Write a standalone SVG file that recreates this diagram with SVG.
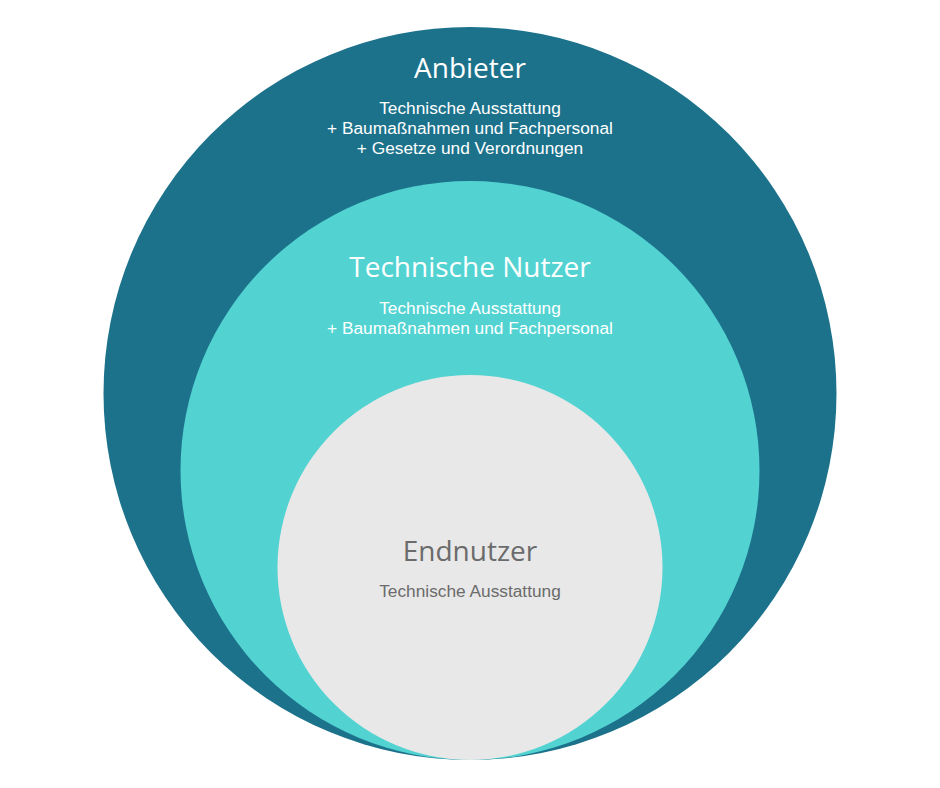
<svg xmlns="http://www.w3.org/2000/svg" width="940" height="788" viewBox="0 0 940 788">
<style>
.t{text-anchor:middle}
.h{font-family:"Open Sans","Noto Sans","DejaVu Sans",sans-serif;font-size:28px}
.s{font-family:"Liberation Sans",Arial,sans-serif;font-size:17.3px}
.w{fill:#ffffff}
.g{fill:#6b6b6b}
</style>
<rect width="940" height="788" fill="#ffffff"/>
<g id="anbieter">
<circle cx="470" cy="393.5" r="366.5" fill="#1c728b"/>
<text class="t h w" x="470" y="78">Anbieter</text>
<text class="t s w" x="470" y="114">Technische Ausstattung</text>
<text class="t s w" x="470" y="134">+ Baumaßnahmen und Fachpersonal</text>
<text class="t s w" x="470" y="154">+ Gesetze und Verordnungen</text>
</g>
<g id="technische-nutzer">
<circle cx="470" cy="470.5" r="289.5" fill="#52d3d2"/>
<text class="t h w" x="470" y="277">Technische Nutzer</text>
<text class="t s w" x="470" y="314">Technische Ausstattung</text>
<text class="t s w" x="470" y="334">+ Baumaßnahmen und Fachpersonal</text>
</g>
<g id="endnutzer">
<circle cx="470" cy="567.5" r="192.5" fill="#e8e8e8"/>
<text class="t h g" x="470" y="561">Endnutzer</text>
<text class="t s g" x="470" y="597">Technische Ausstattung</text>
</g>
<g id="connectors"></g>
</svg>
